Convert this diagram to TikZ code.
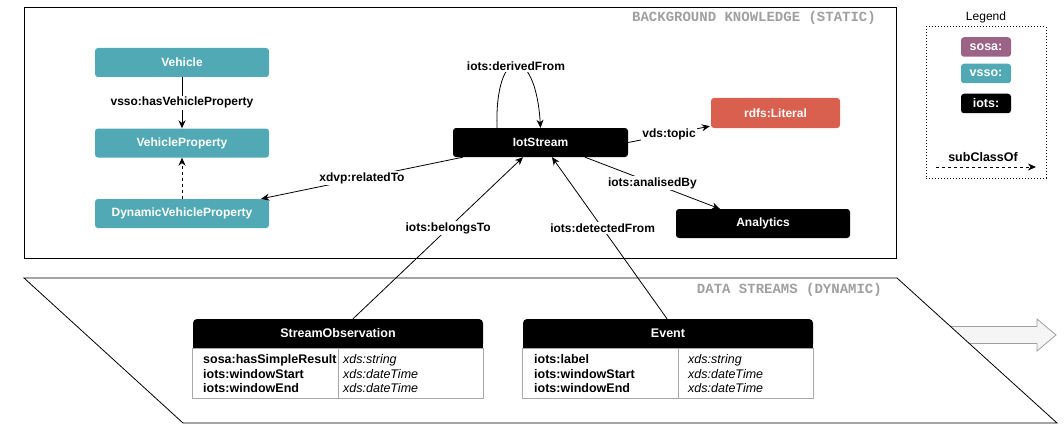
\documentclass[tikz,border=0pt]{standalone}
\usepackage{fontspec}
\setmainfont{Liberation Sans}
\newfontfamily\monof{Liberation Mono}
\usetikzlibrary{arrows.meta,calc}
\definecolor{vteal}{HTML}{50A9B4}
\definecolor{lred}{HTML}{D9604F}
\definecolor{sosap}{HTML}{9B6386}
\definecolor{ttl}{HTML}{A0A0A0}
\definecolor{tblc}{HTML}{A8A8A8}
\begin{document}
\begin{tikzpicture}[x=1pt,y=-1pt,
  cls/.style={rounded corners=3pt, minimum height=29pt, inner sep=0pt, text=white,
              font=\fontsize{12}{14}\selectfont\bfseries},
  hdr/.style={rounded corners=4pt, fill=black, minimum width=290pt, minimum height=29pt,
              inner sep=0pt, text=white, font=\fontsize{12.5}{14}\selectfont\bfseries},
  lbl/.style={fill=white, inner sep=1.5pt, text=black, font=\fontsize{12}{14}\selectfont\bfseries},
  edge/.style={draw=black, line width=0.8pt, -{Stealth[length=8pt,width=7pt]}},
  dsh/.style={dash pattern=on 3pt off 3pt},
  rowk/.style={anchor=west, align=left, inner sep=0pt, font=\fontsize{12.5}{14.5}\selectfont\bfseries},
  rowv/.style={anchor=west, align=left, inner sep=0pt, font=\fontsize{12.5}{14.5}\selectfont\itshape},
  lgd/.style={rounded corners=3pt, minimum width=50pt, minimum height=19.5pt, inner sep=0pt,
              text=white, font=\fontsize{12.5}{14}\selectfont\bfseries},
  ttlf/.style={text=ttl, inner sep=0pt, font=\fontsize{14}{16}\selectfont\monof\bfseries}
]
\useasboundingbox (0,0) rectangle (1064,425);

% ---------- background knowledge ----------
\node[draw, line width=1pt, minimum width=872pt, minimum height=251pt, anchor=north west, inner sep=0pt] (bg) at (24,7) {};
\node[ttlf, anchor=east] (bgt) at (876,18) {BACKGROUND KNOWLEDGE (STATIC)};

% ---------- data streams (dynamic) ----------
\draw[draw=gray!75, fill=gray!8, line width=0.8pt] (940,326.5) -- (1037,326.5) -- (1037,319) -- (1056,335)
   -- (1037,351) -- (1037,343.5) -- (940,343.5) -- cycle;
\draw[line width=0.8pt, fill=white] (24,278) -- (897,278) -- (1057,423) -- (183,423) -- cycle;
\node[ttlf, anchor=east] (dst) at (882,290) {DATA STREAMS (DYNAMIC)};

% ---------- classes ----------
\node[cls, fill=vteal, minimum width=174pt] (veh) at (182,62.5) {Vehicle};
\node[cls, fill=vteal, minimum width=174pt] (vp) at (182,143) {VehicleProperty};
\node[cls, fill=vteal, minimum width=174pt] (dvp) at (182,213.5) {DynamicVehicleProperty};
\node[cls, fill=black, minimum width=175pt] (iot) at (540.5,142.5) {IotStream};
\node[cls, fill=lred, minimum width=129pt, minimum height=30pt] (lit) at (775.5,113) {rdfs:Literal};
\node[cls, fill=black, minimum width=174pt] (ana) at (763,223.5) {Analytics};

% ---------- tables ----------
\node[hdr] (so) at (338,333.5) {StreamObservation};
\fill[black] (so.south west) rectangle ($(so.south east)+(0,-6)$);
\draw[tblc, line width=0.8pt, fill=white] (so.south west) rectangle ($(so.south east)+(0,50)$);
\draw[tblc, line width=0.8pt] (338,348) -- (338,398);
\node[rowk] (sok) at (203,374) {sosa:hasSimpleResult\\iots:windowStart\\iots:windowEnd};
\node[rowv] (sov) at (343,374) {xds:string\\xds:dateTime\\xds:dateTime};

\node[hdr] (ev) at (668,333.5) {Event};
\fill[black] (ev.south west) rectangle ($(ev.south east)+(0,-6)$);
\draw[tblc, line width=0.8pt, fill=white] (ev.south west) rectangle ($(ev.south east)+(0,50)$);
\draw[tblc, line width=0.8pt] (678,348) -- (678,398);
\node[rowk] (evk) at (534,374) {iots:label\\iots:windowStart\\iots:windowEnd};
\node[rowv] (evv) at (688,374) {xds:string\\xds:dateTime\\xds:dateTime};

% ---------- connectors ----------
\draw[edge] (veh) -- node[lbl] (l1) {vsso:hasVehicleProperty} (vp);
\draw[edge, dsh] (dvp) -- (vp);
\draw[edge] ($(iot.south west)+(10,0)$) -- node[lbl] (l2) {xdvp:relatedTo} ($(dvp.north east)+(-8,0)$);
\draw[edge] ($(iot.north)+(-43.5,0)$) .. controls ($(iot.north)+(-46,-84)$) and ($(iot.north)+(-5,-84)$) .. (iot.north)
   node[lbl, pos=0.5, yshift=-1pt] (l3) {iots:derivedFrom};
\draw[edge] (iot.east) -- node[lbl, pos=0.5] (l4) {vds:topic} ($(lit.south west)+(-1,-2)$);
\draw[edge] ($(iot.south)+(44.5,0)$) -- node[lbl] (l5) {iots:analisedBy} ($(ana.north west)+(44,0)$);
\draw[edge] ($(so.north)+(15,0)$) -- node[lbl, pos=0.56] (l6) {iots:belongsTo} ($(iot.south)+(-17.5,0)$);
\draw[edge] ($(ev.north)+(-1,0)$) -- node[lbl, pos=0.56] (l7) {iots:detectedFrom} ($(iot.south)+(11.5,0)$);

% ---------- legend ----------
\node[inner sep=0pt, font=\fontsize{12}{14}\selectfont] (legt) at (986,17) {Legend};
\node[draw, dotted, line width=1pt, minimum width=120pt, minimum height=151pt, inner sep=0pt] (legb) at (986,102.5) {};
\node[lgd, fill=sosap] (ls) at (986,47) {sosa:};
\node[lgd, fill=vteal] (lv) at (986,73.5) {vsso:};
\node[lgd, fill=black] (li) at (986,103.5) {iots:};
\coordinate (sca) at (936,167);
\coordinate (scb) at (1036,167);
\draw[edge, dsh] (sca) -- (scb);
\node[inner sep=0pt, font=\fontsize{12.5}{14}\selectfont\bfseries] (lsc) at (983,157) {subClassOf};
\end{tikzpicture}
\end{document}
